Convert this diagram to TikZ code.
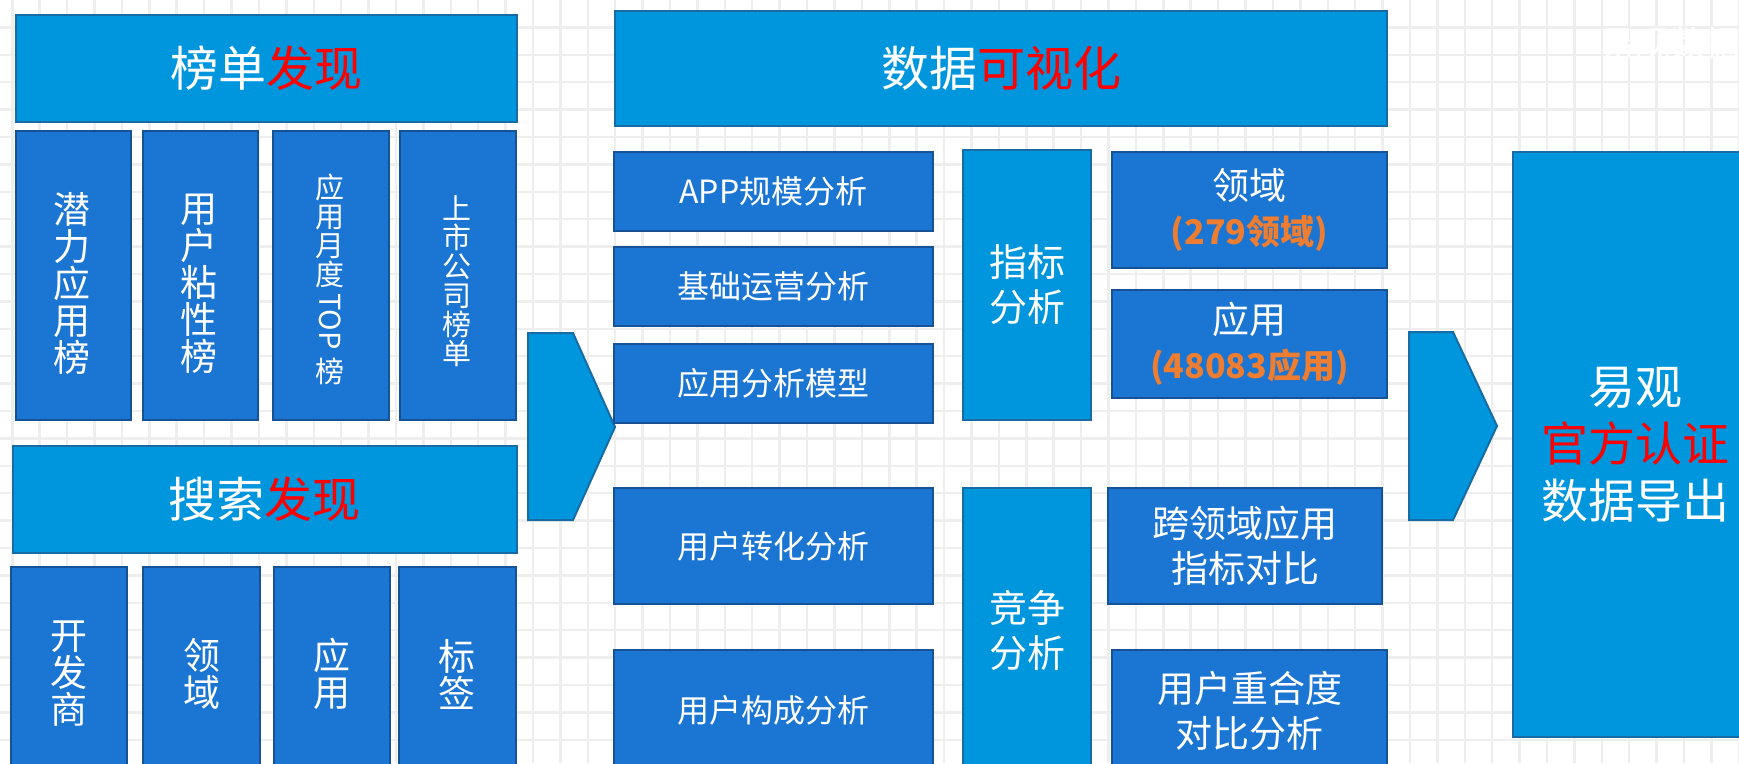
\documentclass[tikz,border=0pt]{standalone}
\usepackage{fontspec}
\setmainfont{Noto Sans CJK SC}
\definecolor{lblue}{RGB}{0,150,221}
\definecolor{lborder}{RGB}{24,108,165}
\definecolor{dblue}{RGB}{27,117,210}
\definecolor{dborder}{RGB}{22,82,150}
\definecolor{tred}{RGB}{255,0,0}
\definecolor{torange}{RGB}{237,125,49}
\definecolor{gridc}{RGB}{238,238,238}
\begin{document}
\begin{tikzpicture}[x=1pt,y=-1pt,
  lbox/.style={draw=lborder, fill=lblue, line width=2pt, inner sep=0pt, text=white, align=center, anchor=north west},
  dbox/.style={lbox, draw=dborder, fill=dblue},
  plaintext/.style={inner sep=0pt, text=white, align=center},
  blockarrow/.style={draw=lborder, fill=lblue, line width=2pt, line join=miter},
  gridline/.style={draw=gridc, line width=2.5pt},
  fhead/.style={font=\fontsize{48}{56}\selectfont},
  fvert/.style={font=\fontsize{37}{37}\selectfont},
  fvsmall/.style={font=\fontsize{29}{29}\selectfont},
  fmid/.style={font=\fontsize{32}{40}\selectfont},
  fside/.style={font=\fontsize{38}{45}\selectfont},
  fright/.style={font=\fontsize{37}{45}\selectfont}]
\useasboundingbox (0,0) rectangle (1739,763);
\clip (0,0) rectangle (1739,763);
\fill[white] (0,0) rectangle (1739,763);
\foreach \i in {0,...,63} \draw[gridline] ({12.3+27.405*\i},0) -- ({12.3+27.405*\i},763);
\foreach \j in {1,...,27} \draw[gridline] (0,{27.4*\j}) -- (1739,{27.4*\j});

% left column
\node[lbox, fhead, minimum width=501pt, minimum height=107pt] (h1) at (14.5,14) {榜单\textcolor{tred}{发现}};
\node[dbox, minimum width=115.5pt, minimum height=289pt] (v1) at (14.5,130) {};
\node[plaintext, fvert] (v1t) at (72.2,283.5) {潜\\力\\应\\用\\榜};
\node[dbox, minimum width=115.4pt, minimum height=289pt] (v2) at (141.6,130) {};
\node[plaintext, fvert] (v2t) at (199.3,283.5) {用\\户\\粘\\性\\榜};
\node[dbox, minimum width=116pt, minimum height=289pt] (v3) at (271.7,130) {};
\node[plaintext, fvsmall, anchor=north] (v3a) at (329.7,174) {应\\用\\月\\度};
\node[plaintext, fvsmall, rotate=-90, anchor=west] (v3b) at (329.7,293) {TOP};
\node[plaintext, fvsmall, anchor=north] (v3c) at (329.7,358) {榜};
\node[dbox, minimum width=115.9pt, minimum height=289pt] (v4) at (398.8,130) {};
\node[plaintext, fvsmall] (v4t) at (456.7,281.5) {上\\市\\公\\司\\榜\\单};

\node[lbox, fhead, minimum width=504pt, minimum height=107pt] (h2) at (11.5,445) {搜索\textcolor{tred}{发现}};
\node[dbox, fvert, minimum width=116pt, minimum height=214pt] (s1) at (10.3,566) {开\\发\\商};
\node[dbox, fvert, minimum width=116.6pt, minimum height=214pt] (s2) at (142.4,566) {领\\域};
\node[dbox, fvert, minimum width=116.5pt, minimum height=214pt] (s3) at (272.5,566) {应\\用};
\node[dbox, fvert, minimum width=116.7pt, minimum height=214pt] (s4) at (398,566) {标\\签};

% arrow 1
\draw[blockarrow] (528,333) -- (573,333) -- (615,427) -- (573,520) -- (528,520) -- cycle;

% middle
\node[lbox, fhead, minimum width=772pt, minimum height=115pt] (h3) at (614,10) {数据\textcolor{tred}{可视化}};
\node[dbox, fmid, minimum width=319pt, minimum height=79pt] (m1) at (613,151) {APP规模分析};
\node[dbox, fmid, minimum width=319pt, minimum height=79pt] (m2) at (613,246) {基础运营分析};
\node[dbox, fmid, minimum width=319pt, minimum height=79pt] (m3) at (613,343) {应用分析模型};
\node[dbox, fmid, minimum width=319pt, minimum height=116pt] (m4) at (613,487) {用户转化分析};
\node[dbox, fmid, minimum width=319pt, minimum height=121pt] (m5) at (613,649) {用户构成分析};

\node[lbox, fside, minimum width=128pt, minimum height=270pt] (k1) at (962,149) {指标\\分析};
\node[lbox, fside, minimum width=128pt, minimum height=286pt] (k2) at (962,487) {竞争\\分析};

\node[dbox, fright, minimum width=275pt, minimum height=116pt] (r1) at (1111,151) {领域\\{\fontsize{34}{42}\selectfont\bfseries\color{torange}(279领域)}};
\node[dbox, fright, minimum width=275pt, minimum height=108pt] (r2) at (1111,289) {应用\\{\fontsize{34}{42}\selectfont\bfseries\color{torange}(48083应用)}};
\node[dbox, fright, minimum width=274pt, minimum height=116pt] (r3) at (1107,487) {跨领域应用\\指标对比};
\node[dbox, fright, minimum width=275pt, minimum height=122pt] (r4) at (1111,649) {用户重合度\\对比分析};

% arrow 2
\draw[blockarrow] (1409,332) -- (1453,332) -- (1497,426) -- (1453,520) -- (1409,520) -- cycle;

% right
\node[lbox, font=\fontsize{47}{57}\selectfont, minimum width=244pt, minimum height=585pt] (e) at (1512,151) {易观\\\textcolor{tred}{官方认证}\\数据导出};

\node[anchor=west, inner sep=0pt, text=white, font=\fontsize{35}{35}\selectfont] (wm) at (1600,43) {易观数据};
\end{tikzpicture}
\end{document}
